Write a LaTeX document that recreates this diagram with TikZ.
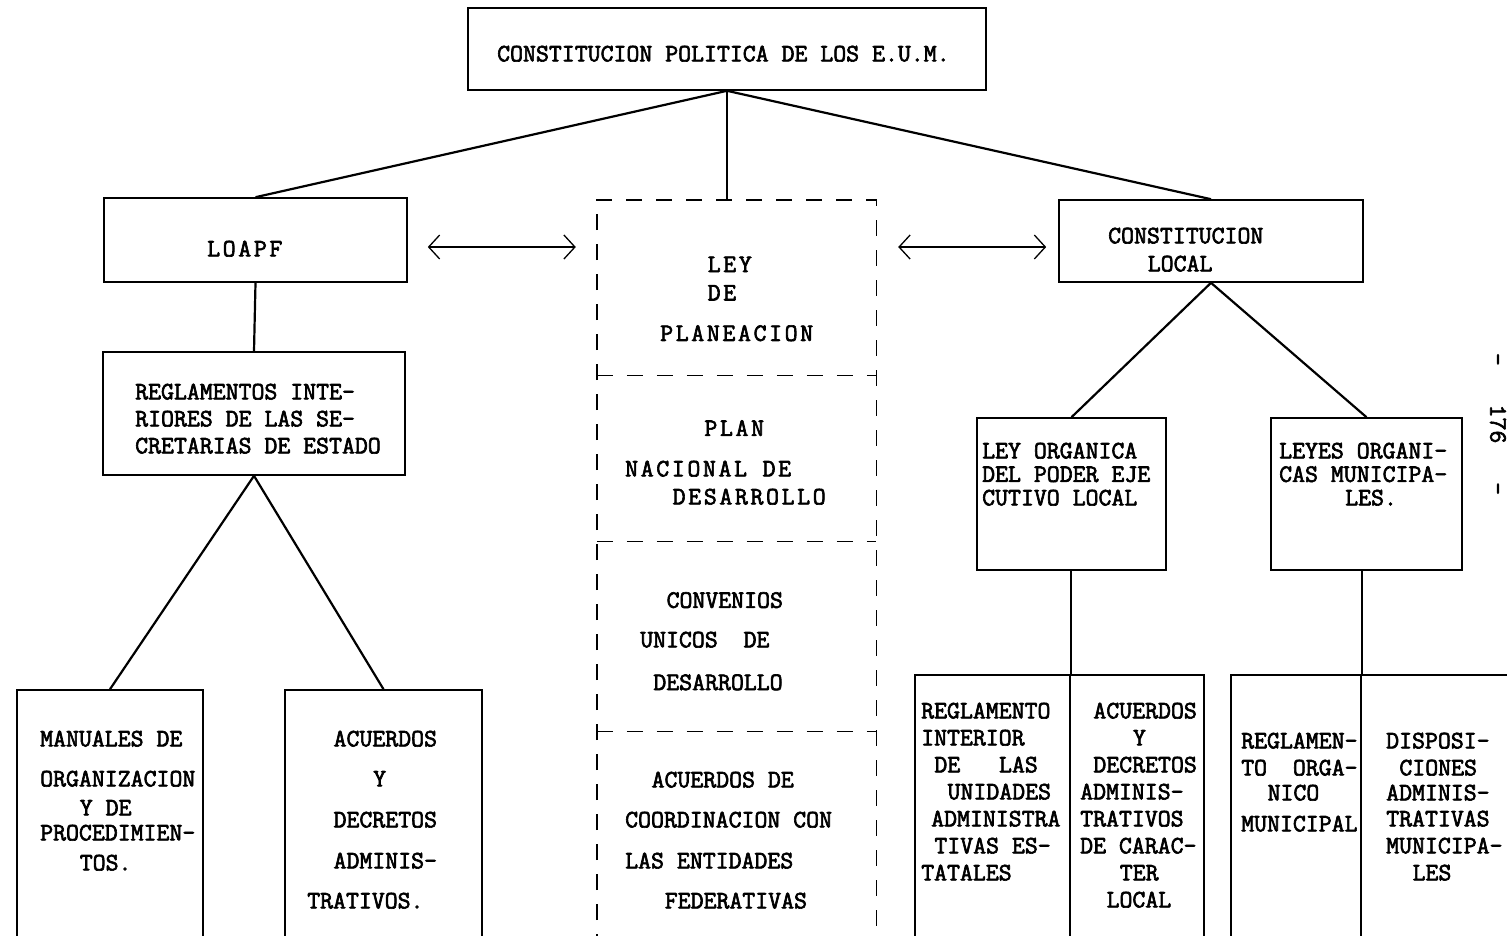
\documentclass[tikz,border=0pt]{standalone}
\usepackage{fontspec}
\newfontfamily\tw[FakeBold=2.5]{Latin Modern Mono}
\newfontfamily\tww[FakeBold=2.5,LetterSpace=10.5]{Latin Modern Mono}
\usetikzlibrary{arrows.meta,calc}
\newlength\cw \setlength\cw{13.2pt}
\newlength\cww \setlength\cww{15.84pt}
\newcommand\ind[1]{\hspace*{#1\cw}}
\newcommand\indw[1]{\hspace*{#1\cww}}
\tikzset{
  box/.style={draw, line width=1.6pt, inner sep=0pt},
  area/.style={inner sep=0pt},
  txt/.style={anchor=north west, inner sep=0pt, align=left, font=\tw\fontsize{25.1}{27}\selectfont},
  wtxt/.style={anchor=north west, inner sep=0pt, align=left, font=\tww\fontsize{25.1}{27}\selectfont},
  conn/.style={line width=2.2pt},
  dsh/.style={line width=1.4pt, dash pattern=on 16pt off 14pt},
  dbl/.style={line width=1.3pt, {Straight Barb[length=11pt,width=24pt]}-{Straight Barb[length=11pt,width=24pt]}}
}
\begin{document}
\begin{tikzpicture}[x=1pt,y=-1pt]
\fill[white] (0,0) rectangle (1507,935);
\useasboundingbox (0,0) rectangle (1507,935);

% boxes
\node[box, minimum width=518pt, minimum height=82pt] (top) at (727,49) {};
\node[box, minimum width=303pt, minimum height=84pt] (loapf) at (255.5,240) {};
\node[box, minimum width=302pt, minimum height=123pt] (regl) at (254,413.5) {};
\node[box, minimum width=186pt, minimum height=260pt] (man) at (110,820) {};
\node[box, minimum width=197pt, minimum height=260pt] (acu) at (383.5,820) {};
\node[box, minimum width=304pt, minimum height=82pt] (cloc) at (1211,241) {};
\node[box, minimum width=189pt, minimum height=152pt] (lo) at (1071.5,494) {};
\node[box, minimum width=191pt, minimum height=152pt] (leyes) at (1366.5,494) {};
\node[box, minimum width=155pt, minimum height=275pt] (ra) at (992.5,812.5) {};
\node[box, minimum width=134pt, minimum height=275pt] (rb) at (1137,812.5) {};
\node[box, minimum width=130pt, minimum height=275pt] (rc) at (1296,812.5) {};
\node[box, minimum width=169pt, minimum height=275pt] (rd) at (1445.5,812.5) {};

% dashed column sections
\node[area, minimum width=279pt, minimum height=175pt] (s1) at (736.5,287.5) {};
\node[area, minimum width=279pt, minimum height=166.5pt] (s2) at (736.5,458.25) {};
\node[area, minimum width=279pt, minimum height=190pt] (s3) at (736.5,636.5) {};
\node[area, minimum width=279pt, minimum height=218pt] (s4) at (736.5,841) {};
\draw[dsh] (s4.south west) -- (s1.north west) -- (s1.north east) -- (s4.south east);
\draw[dsh] (s1.south west) -- (s1.south east);
\draw[dsh] (s2.south west) -- (s2.south east);
\draw[dsh] (s3.south west) -- (s3.south east);

% texts
\node[txt] (ttop) at (497,45.5) {CONSTITUCION POLITICA DE LOS E.U.M.};
\node[wtxt] (tloapf) at (207,240.5) {LOAPF};
\node[txt] (tregl) at (135,383.5) {REGLAMENTOS INTE-\\RIORES DE LAS SE-\\CRETARIAS DE ESTADO};
\node[txt] (tman) at (40,730.5) {MANUALES DE\\[13pt]ORGANIZACION\\[2pt]\ind{3}Y DE\\[-2pt]PROCEDIMIEN-\\[3pt]\ind{3}TOS.};
\node[txt] (tacu) at (307,730.5) {\ind{2}ACUERDOS\\[13pt]\ind{5}Y\\[14pt]\ind{2}DECRETOS\\[14pt]\ind{2}ADMINIS-\\[13pt]TRATIVOS.};
\node[wtxt] (ts1) at (660,256.5) {\indw{3}LEY\\[1.4pt]\indw{3}DE\\[13.5pt]PLANEACION};
\node[wtxt] (ts2) at (625,420) {\indw{5}PLAN\\[13.5pt]NACIONAL DE\\[1pt]\indw{3}DESARROLLO};
\node[txt] (ts3) at (640,592) {\ind{2}CONVENIOS\\[12.5pt]UNICOS\ \ DE\\[15.7pt]\ind{1}DESARROLLO};
\node[txt] (ts4) at (625,771.5) {\ind{2}ACUERDOS DE\\[13pt]COORDINACION CON\\[14pt]LAS ENTIDADES\\[13pt]\ind{3}FEDERATIVAS};
\node[txt] (tcloc) at (1108,227.5) {CONSTITUCION\\[1pt]\ind{3}LOCAL};
\node[txt] (tlo) at (982,442.5) {LEY ORGANICA\\[-3.5pt]DEL PODER EJE\\[-3.5pt]CUTIVO LOCAL};
\node[txt] (tleyes) at (1279,442.5) {LEYES ORGANI-\\[-3.5pt]CAS MUNICIPA-\\[-3.5pt]\ind{5}LES.};
\node[txt] (tra) at (921,702.5) {REGLAMENTO\\INTERIOR\\\ind{1}DE\ \ \ LAS\\\ind{2}UNIDADES\\\hspace*{10pt}ADMINISTRA\\\ind{1}TIVAS ES-\\TATALES};
\node[txt] (trb) at (1080,702.5) {\ind{1}ACUERDOS\\\ind{4}Y\\\ind{1}DECRETOS\\ADMINIS-\\TRATIVOS\\DE CARAC-\\\ind{3}TER\\\ind{2}LOCAL};
\node[txt] (trc) at (1241,732.5) {REGLAMEN-\\TO\ \ ORGA-\\[-2pt]\ind{2}NICO\\[4pt]MUNICIPAL};
\node[txt] (trd) at (1386,732.5) {DISPOSI-\\\ind{1}CIONES\\[-2pt]ADMINIS-\\[-1pt]TRATIVAS\\MUNICIPA-\\\ind{2}LES};
\node[rotate=-90, inner sep=0pt, font=\tw\fontsize{25.1}{27}\selectfont] (pg) at (1498,424) {-\ \ \ 176\ \ \ -};

% connectors
\draw[conn] (top.south) -- (loapf.north);
\draw[conn] (top.south) -- (top.south |- s1.north);
\draw[conn] (top.south) -- (cloc.north);
\draw[conn] (loapf.south) -- (regl.north);
\draw[conn] (regl.south) -- (man.north);
\draw[conn] (regl.south) -- (acu.north);
\draw[conn] (cloc.south) -- (lo.north);
\draw[conn] (cloc.south) -- (leyes.north);
\draw[conn] (lo.south -| ra.east) -- (ra.north east);
\draw[conn] (leyes.south -| rc.east) -- (rc.north east);

% double arrows
\draw[dbl, shorten <=20pt, shorten >=21pt] ($(loapf.east)+(0,7)$) -- ($(loapf.east -| s1.west)+(0,7)$);
\draw[dbl, shorten <=22pt, shorten >=12pt] ($(s1.east |- cloc.west)+(0,6)$) -- ($(cloc.west)+(0,6)$);
\end{tikzpicture}
\end{document}
